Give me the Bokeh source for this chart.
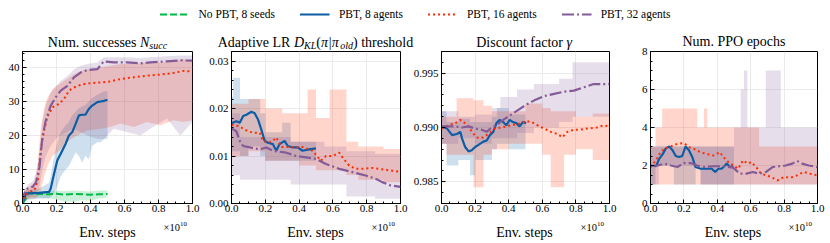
from bokeh.plotting import figure
from bokeh.layouts import column, row
from bokeh.models import (Range1d, SingleIntervalTicker, NumeralTickFormatter,
                          Label, Legend, LegendItem)
from bokeh.embed import file_html
from bokeh.resources import INLINE

FONT = "Liberation Serif"
C_GREEN, C_BLUE, C_RED, C_PURPLE = "#00B945", "#0C5DA5", "#FF2C00", "#845B97"

series_names = ["No PBT, 8 seeds", "PBT, 8 agents", "PBT, 16 agents", "PBT, 32 agents"]
x_label = "Env. steps"

# ---------------- Panel 1: Num. successes ----------------
p1_green_x = [0.0, 0.02, 0.03, 0.05, 0.1, 0.15, 0.2, 0.25, 0.3, 0.35, 0.4, 0.45, 0.5]
p1_green_y = [0, 1.5, 3.0, 3.0, 2.8, 2.7, 2.9, 2.6, 2.8, 2.7, 2.6, 2.7, 2.8]
p1_green_lo = [0, 0.3, 1.5, 1.8, 1.8, 1.6, 1.2, 0.6, 0.5, 1.0, 0.8, 1.5, 1.8]
p1_green_hi = [0, 2.5, 3.8, 3.8, 3.6, 3.7, 3.8, 3.6, 3.8, 3.7, 3.5, 3.8, 3.8]

p1_blue_x = [0.0, 0.02, 0.1, 0.156, 0.166, 0.186, 0.205, 0.225, 0.254, 0.273, 0.293, 0.3125,
             0.332, 0.35, 0.37, 0.39, 0.41, 0.44, 0.46, 0.48, 0.5]
p1_blue_y = [0, 3.0, 3.1, 3.4, 4.4, 8.8, 12.7, 14.6, 17.6, 20.0, 21.0, 23.4, 25.9, 26.1, 26.1,
             27.8, 28.8, 29.8, 30.0, 30.2, 30.5]
p1_blue_lo = [0, 1.0, 1.5, 1.5, 2, 3, 5, 8, 10, 11, 13, 15, 14, 12, 14, 13, 17, 18, 18, 19, 19]
p1_blue_hi = [0, 4, 4.5, 6, 8, 14, 18, 21, 23, 24, 26, 27, 28, 28.5, 29, 30, 31, 32, 32.5, 33, 33]

p1_red_x = [0.0, 0.01, 0.04, 0.07, 0.09, 0.107, 0.127, 0.146, 0.176, 0.215, 0.244, 0.273, 0.303,
            0.342, 0.38, 0.459, 0.517, 0.576, 0.654, 0.732, 0.81, 0.889, 0.947, 1.0]
p1_red_y = [0, 2.0, 3.4, 3.9, 6.8, 15.6, 21.5, 25.4, 28.3, 29.3, 30.7, 33.2, 34.1, 34.9, 35.3,
            35.6, 35.9, 36.6, 37.1, 37.6, 37.9, 38.4, 39.0, 38.8]
p1_red_lo = [0, 0.5, 1.5, 1.5, 2, 4, 8, 11, 14, 15.5, 17, 18.5, 19.5, 20.5, 21.5, 22, 22.5, 23.5,
             22.5, 24, 23, 24.5, 24, 24.5]
p1_red_hi = [0, 4, 5, 6, 12, 22, 28, 31, 33.5, 35, 36, 37, 38, 39, 39.5, 40, 40.5, 41, 41, 41.5,
             41.5, 42, 42.5, 42]

p1_purple_x = [0.0, 0.01, 0.03, 0.06, 0.08, 0.1, 0.117, 0.137, 0.166, 0.195, 0.225, 0.264, 0.303,
               0.342, 0.38, 0.44, 0.478, 0.537, 0.615, 0.693, 0.752, 0.85, 0.928, 1.0]
p1_purple_y = [0, 2.9, 4.4, 4.9, 6.3, 10.7, 19.5, 24.4, 28.8, 31.2, 33.2, 34.6, 37.1, 38.5, 39.2,
               39.5, 41.8, 41.5, 41.5, 41.2, 41.5, 41.8, 42.1, 42.0]
p1_purple_lo = [0, 1, 2, 2.5, 3, 5, 10, 14, 17, 19, 20, 21, 22, 21, 20, 19, 19, 22, 21, 20, 22,
                25, 20, 24]
p1_purple_hi = [0, 4, 5.5, 6.5, 9, 15, 24, 29, 32.5, 34.5, 36, 37.5, 39.5, 40.5, 41, 41.5, 43, 43,
                43, 42.8, 43, 43.3, 43.5, 43.5]

# ---------------- Panel 2: Adaptive LR threshold ----------------
p2_blue_x = [0.0, 0.006, 0.029, 0.049, 0.069, 0.088, 0.118, 0.137, 0.157, 0.176, 0.196, 0.216,
             0.245, 0.265, 0.284, 0.314, 0.333, 0.363, 0.392, 0.42, 0.46, 0.5]
p2_blue_y = [0.0165, 0.017, 0.0173, 0.017, 0.0184, 0.0187, 0.0193, 0.019, 0.0177, 0.0156, 0.0132,
             0.0128, 0.0125, 0.0111, 0.0125, 0.0132, 0.0121, 0.0118, 0.0118, 0.0111, 0.0114, 0.0116]
p2_red_x = [0.0, 0.039, 0.069, 0.098, 0.127, 0.167, 0.186, 0.216, 0.245, 0.265, 0.294, 0.333,
            0.382, 0.42, 0.48, 0.529, 0.559, 0.598, 0.637, 0.657, 0.696, 0.735, 0.775, 0.833,
            0.873, 0.951, 1.0]
p2_red_y = [0.0166, 0.0163, 0.0158, 0.0152, 0.0149, 0.0149, 0.0132, 0.0128, 0.0132, 0.0139,
            0.0119, 0.0119, 0.0118, 0.0119, 0.0111, 0.009, 0.01, 0.01, 0.0107, 0.0097, 0.008,
            0.0073, 0.0073, 0.0075, 0.0073, 0.0069, 0.0067]
p2_purple_x = [0.0, 0.029, 0.049, 0.069, 0.108, 0.167, 0.206, 0.245, 0.324, 0.382, 0.441, 0.5,
               0.559, 0.637, 0.716, 0.794, 0.853, 0.892, 0.941, 1.0]
p2_purple_y = [0.0158, 0.0152, 0.0132, 0.0121, 0.0118, 0.0114, 0.0118, 0.0111, 0.0107, 0.01,
               0.0097, 0.0094, 0.0083, 0.0073, 0.0066, 0.0059, 0.0052, 0.0045, 0.0038, 0.0035]
p2_blue_bx = [0.0, 0.01, 0.05, 0.1, 0.17, 0.2, 0.3, 0.35, 0.45, 0.5]
p2_blue_lo = [0.011, 0.011, 0.010, 0.012, 0.010, 0.009, 0.009, 0.009, 0.009, 0.009]
p2_blue_hi = [0.0225, 0.0265, 0.022, 0.022, 0.019, 0.015, 0.017, 0.013, 0.013, 0.013]
p2_red_bx = [0.0, 0.1, 0.2, 0.3, 0.4, 0.45, 0.5, 0.58, 0.68, 0.75, 0.9, 1.0]
p2_red_lo = [0.010, 0.011, 0.009, 0.009, 0.008, 0.008, 0.007, 0.007, 0.006, 0.005, 0.0045, 0.0045]
p2_red_hi = [0.021, 0.022, 0.020, 0.019, 0.019, 0.024, 0.018, 0.024, 0.013, 0.012, 0.0115, 0.0115]
p2_purple_bx = [0.0, 0.05, 0.2, 0.35, 0.55, 0.68, 0.85, 1.0]
p2_purple_lo = [0.006, 0.005, 0.005, 0.004, 0.004, 0.0015, 0.001, 0.001]
p2_purple_hi = [0.019, 0.014, 0.014, 0.013, 0.012, 0.011, 0.0105, 0.0105]

# ---------------- Panel 3: Discount factor ----------------
p3_blue_x = [0.0, 0.033, 0.063, 0.092, 0.112, 0.122, 0.141, 0.161, 0.18, 0.2, 0.22, 0.249, 0.269,
             0.288, 0.308, 0.327, 0.347, 0.367, 0.386, 0.406, 0.425, 0.445, 0.465, 0.484, 0.504]
p3_blue_y = [0.9901, 0.9899, 0.9893, 0.9894, 0.9896, 0.989, 0.9882, 0.9878, 0.9879, 0.9882,
             0.9884, 0.9887, 0.9888, 0.9893, 0.9896, 0.9904, 0.9907, 0.9905, 0.9902, 0.9907,
             0.9905, 0.9904, 0.9901, 0.9905, 0.9904]
p3_red_x = [0.0, 0.043, 0.082, 0.112, 0.131, 0.161, 0.18, 0.21, 0.229, 0.249, 0.278, 0.318, 0.357,
            0.416, 0.475, 0.504, 0.553, 0.582, 0.612, 0.651, 0.69, 0.72, 0.749, 0.788, 0.827,
            0.867, 0.925, 0.965, 1.0]
p3_red_y = [0.9899, 0.9902, 0.9904, 0.9907, 0.9905, 0.9901, 0.9896, 0.9891, 0.989, 0.9891, 0.9894,
            0.9899, 0.99, 0.9902, 0.9904, 0.9906, 0.9904, 0.9901, 0.9899, 0.9896, 0.9894, 0.9891,
            0.9896, 0.9898, 0.9898, 0.9899, 0.99, 0.9902, 0.9901]
p3_purple_x = [0.0, 0.043, 0.082, 0.122, 0.161, 0.2, 0.239, 0.269, 0.298, 0.327, 0.367, 0.406,
               0.455, 0.504, 0.553, 0.612, 0.67, 0.729, 0.788, 0.847, 0.906, 0.955, 1.0]
p3_purple_y = [0.9901, 0.9901, 0.9901, 0.99, 0.9901, 0.9899, 0.9898, 0.9896, 0.99, 0.9902,
               0.9907, 0.9911, 0.9916, 0.9921, 0.9925, 0.9929, 0.9931, 0.9933, 0.9934, 0.9937,
               0.994, 0.994, 0.994]
p3_blue_bx = [0.0, 0.03, 0.1, 0.17, 0.2, 0.3, 0.33, 0.4, 0.5]
p3_blue_lo = [0.9885, 0.9865, 0.987, 0.9856, 0.987, 0.988, 0.9885, 0.988, 0.988]
p3_blue_hi = [0.9915, 0.9905, 0.9908, 0.9905, 0.9905, 0.991, 0.9918, 0.9912, 0.9912]
p3_red_bx = [0.0, 0.03, 0.09, 0.19, 0.25, 0.3, 0.4, 0.5, 0.6, 0.65, 0.73, 0.8, 0.9, 1.0]
p3_red_lo = [0.9885, 0.9875, 0.9875, 0.9845, 0.9875, 0.988, 0.9885, 0.9885, 0.9875, 0.9845,
             0.9875, 0.988, 0.987, 0.987]
p3_red_hi = [0.991, 0.991, 0.9927, 0.9925, 0.992, 0.9915, 0.9915, 0.9922, 0.9918, 0.9915, 0.9915,
             0.991, 0.9913, 0.9913]
p3_purple_bx = [0.0, 0.1, 0.2, 0.3, 0.35, 0.45, 0.55, 0.7, 0.78, 1.0]
p3_purple_lo = [0.9885, 0.989, 0.9885, 0.989, 0.989, 0.9895, 0.990, 0.9905, 0.991, 0.991]
p3_purple_hi = [0.9915, 0.991, 0.9912, 0.9918, 0.9928, 0.9935, 0.994, 0.9945, 0.996, 0.996]

# ---------------- Panel 4: Num. PPO epochs ----------------
p4_blue_x = [0.0, 0.033, 0.053, 0.073, 0.092, 0.112, 0.132, 0.151, 0.171, 0.19, 0.21, 0.23, 0.25,
             0.269, 0.3, 0.338, 0.367, 0.387, 0.407, 0.426, 0.446, 0.456, 0.475, 0.495]
p4_blue_y = [2.0, 1.96, 2.36, 2.6, 2.9, 3.0, 2.8, 2.5, 2.45, 2.5, 3.0, 2.8, 2.45, 1.92, 1.83, 1.83,
             1.83, 1.66, 1.83, 1.83, 2.0, 2.1, 1.92, 1.96]
p4_red_x = [0.0, 0.033, 0.053, 0.083, 0.122, 0.161, 0.2, 0.23, 0.259, 0.3, 0.338, 0.377, 0.416,
            0.436, 0.466, 0.495, 0.525, 0.554, 0.583, 0.603, 0.633, 0.662, 0.692, 0.721, 0.76,
            0.8, 0.839, 0.878, 0.917, 0.957, 1.0]
p4_red_y = [1.92, 2.27, 2.6, 2.9, 3.0, 3.14, 3.18, 2.97, 2.88, 2.7, 2.6, 2.53, 2.7, 2.45, 2.18, 2.0,
            1.83, 2.27, 2.1, 2.18, 1.92, 1.57, 1.48, 1.4, 1.22, 1.4, 1.36, 1.48, 1.66, 1.57, 1.48]
p4_purple_x = [0.0, 0.043, 0.083, 0.122, 0.161, 0.2, 0.24, 0.279, 0.318, 0.377, 0.436, 0.495,
               0.534, 0.574, 0.613, 0.652, 0.692, 0.731, 0.77, 0.809, 0.849, 0.878, 0.908, 0.947,
               1.0]
p4_purple_y = [1.96, 2.0, 2.1, 2.0, 1.92, 2.13, 2.13, 2.0, 1.92, 1.96, 1.96, 1.89, 1.57, 1.57, 1.66,
               1.57, 1.66, 1.92, 1.96, 2.0, 2.1, 2.24, 2.1, 2.0, 1.92]
p4_blue_bx = [0.0, 0.03, 0.14, 0.27, 0.3, 0.5]
p4_blue_lo = [1, 2, 1, 2, 1, 1]
p4_blue_hi = [3, 3, 3, 3, 3, 3]
p4_red_bx = [0.0, 0.03, 0.07, 0.28, 0.32, 0.34, 0.65, 1.0]
p4_red_lo = [1, 1, 1, 1, 1, 1, 1, 1]
p4_red_hi = [3, 4, 5, 4, 5, 4, 3, 3]
p4_purple_bx = [0.0, 0.05, 0.3, 0.5, 0.54, 0.56, 0.58, 0.69, 0.78, 1.0]
p4_purple_lo = [1, 2, 1, 1, 1, 1, 1, 1, 1, 1]
p4_purple_hi = [3, 3, 3, 4, 6, 7, 4, 7, 4, 4]

# ---------------- layout constants ----------------
TOTAL_W = 830
W = [206, 204, 228, 192]      # figure widths
L = [22, 24, 29, 10]          # left borders
R = [14, 10, 29, 13]          # right borders
LEG_H, TITLE_H, PANEL_H, BOT_H = 28, 22, 167, 26

ROMAN = {' ': .25, '.': .25, ',': .25, 'N': .722, 'u': .5, 'm': .778, 's': .389, 'c': .444,
         'e': .444, 'A': .722, 'd': .5, 'a': .444, 'p': .5, 't': .278, 'i': .278, 'v': .5,
         'L': .611, 'R': .667, 'h': .5, 'r': .333, 'o': .5, 'l': .278, 'D': .722, 'f': .333,
         'P': .556, 'O': .722, '(': .333, ')': .333, '|': .2, 'n': .5, '×': .564, '1': .5, '0': .5}
ITAL = {'N': .667, 's': .389, 'u': .5, 'c': .444, 'D': .722, 'K': .667, 'L': .556, 'o': .5,
        'l': .278, 'd': .5, 'π': .55, '|': .275, 'γ': .45}


def tw(s, size, italic):
    tab = ITAL if italic else ROMAN
    return sum(tab.get(ch, 0.5) for ch in s) * size


frame_left, frame_right = [], []
acc = 0
for w, l, r in zip(W, L, R):
    frame_left.append(acc + l)
    frame_right.append(acc + w - r)
    acc += w
frame_mid = [(a + b) / 2 for a, b in zip(frame_left, frame_right)]


def strip(width, height):
    s = figure(width=width, height=height, x_range=Range1d(0, width),
               y_range=Range1d(0, height), output_backend="svg", toolbar_location=None,
               min_border=0)
    s.axis.visible = False
    s.grid.visible = False
    s.outline_line_color = None
    return s


def txt(fig, x, y, s, size, italic=False, align="left"):
    fig.add_layout(Label(x=x, y=y, text=s, text_font=FONT,
                         text_font_style="italic" if italic else "normal",
                         text_font_size=f"{size}px", text_baseline="alphabetic",
                         text_align=align, text_color="black"))


def make_panel(i, yr, yint, yminor, yfmt, extra_top=0):
    p = figure(width=W[i], height=PANEL_H + extra_top, x_range=Range1d(0, 1),
               y_range=Range1d(*yr), output_backend="svg", toolbar_location=None,
               min_border_left=L[i], min_border_right=R[i], min_border_top=1 + extra_top,
               min_border_bottom=14)
    p.outline_line_color = "black"
    p.outline_line_width = 1
    p.xaxis.ticker = SingleIntervalTicker(interval=0.2, num_minor_ticks=4)
    p.xaxis.formatter = NumeralTickFormatter(format="0.0")
    p.yaxis.ticker = SingleIntervalTicker(interval=yint, num_minor_ticks=yminor)
    if yfmt:
        p.yaxis.formatter = NumeralTickFormatter(format=yfmt)
    for ax in p.axis:
        ax.major_tick_in = 4
        ax.major_tick_out = 0
        ax.minor_tick_in = 2
        ax.minor_tick_out = 0
        ax.axis_line_color = "black"
        ax.major_tick_line_color = "black"
        ax.minor_tick_line_color = "black"
        ax.major_label_text_font = FONT
        ax.major_label_text_font_size = "11px"
        ax.major_label_text_color = "black"
    p.xaxis.major_label_standoff = 1
    p.yaxis.major_label_standoff = 3
    p.grid.grid_line_color = "#e6e6e6"
    p.grid.grid_line_width = 0.8
    return p


STY = {
    "green": dict(line_color=C_GREEN, line_width=2, line_dash="7 3"),
    "blue": dict(line_color=C_BLUE, line_width=2.2),
    "red": dict(line_color=C_RED, line_width=2, line_dash="2 3"),
    "purple": dict(line_color=C_PURPLE, line_width=2.2, line_dash="12 3 2 3"),
}
BAND_ALPHA = 0.2

# Panel 1
p1 = make_panel(0, (0, 44.7), 10, 5, None)
for x, lo, hi, c in [(p1_green_x, p1_green_lo, p1_green_hi, C_GREEN),
                     (p1_blue_x, p1_blue_lo, p1_blue_hi, C_BLUE),
                     (p1_red_x, p1_red_lo, p1_red_hi, C_RED),
                     (p1_purple_x, p1_purple_lo, p1_purple_hi, C_PURPLE)]:
    p1.varea(x=x, y1=lo, y2=hi, fill_color=c, fill_alpha=BAND_ALPHA)
p1.line(p1_green_x, p1_green_y, **STY["green"])
p1.line(p1_blue_x, p1_blue_y, **STY["blue"])
p1.line(p1_red_x, p1_red_y, **STY["red"])
p1.line(p1_purple_x, p1_purple_y, **STY["purple"])

# Panel 2
p2 = make_panel(1, (0, 0.032), 0.01, 5, "0.00")
for x, lo, hi, c in [(p2_blue_bx, p2_blue_lo, p2_blue_hi, C_BLUE),
                     (p2_red_bx, p2_red_lo, p2_red_hi, C_RED),
                     (p2_purple_bx, p2_purple_lo, p2_purple_hi, C_PURPLE)]:
    p2.varea_step(x=x, y1=lo, y2=hi, step_mode="after", fill_color=c, fill_alpha=BAND_ALPHA)
p2.line(p2_blue_x, p2_blue_y, **STY["blue"])
p2.line(p2_red_x, p2_red_y, **STY["red"])
p2.line(p2_purple_x, p2_purple_y, **STY["purple"])

# Panel 3
p3 = make_panel(2, (0.983, 0.997), 0.005, 5, "0.000")
for x, lo, hi, c in [(p3_blue_bx, p3_blue_lo, p3_blue_hi, C_BLUE),
                     (p3_red_bx, p3_red_lo, p3_red_hi, C_RED),
                     (p3_purple_bx, p3_purple_lo, p3_purple_hi, C_PURPLE)]:
    p3.varea_step(x=x, y1=lo, y2=hi, step_mode="after", fill_color=c, fill_alpha=BAND_ALPHA)
p3.line(p3_blue_x, p3_blue_y, **STY["blue"])
p3.line(p3_red_x, p3_red_y, **STY["red"])
p3.line(p3_purple_x, p3_purple_y, **STY["purple"])

# Panel 4 (taller: its own title sits in its top border, so the top tick label "8" fits)
p4 = make_panel(3, (0, 8), 2, 4, None, extra_top=TITLE_H)
for x, lo, hi, c in [(p4_blue_bx, p4_blue_lo, p4_blue_hi, C_BLUE),
                     (p4_red_bx, p4_red_lo, p4_red_hi, C_RED),
                     (p4_purple_bx, p4_purple_lo, p4_purple_hi, C_PURPLE)]:
    p4.varea_step(x=x, y1=lo, y2=hi, step_mode="after", fill_color=c, fill_alpha=BAND_ALPHA)
p4.line(p4_blue_x, p4_blue_y, **STY["blue"])
p4.line(p4_red_x, p4_red_y, **STY["red"])
p4.line(p4_purple_x, p4_purple_y, **STY["purple"])
p4.title.text = "Num. PPO epochs"
p4.title.align = "center"
p4.title.text_font = FONT
p4.title.text_font_size = "14px"
p4.title.text_font_style = "normal"
p4.title.text_color = "black"
p4.title.standoff = 5
p4.title.offset = 0

# Titles strip for panels 1-3 (rich text: pieces of (text, italic, size, baseline shift))
titles = [
    [("Num. successes ", False, 14, 0), ("N", True, 14, 0), ("succ", True, 10, -3)],
    [("Adaptive LR ", False, 14, 0), ("D", True, 14, 0), ("KL", True, 10, -3),
     ("(", False, 14, 0), ("π|π", True, 14, 0), ("old", True, 10, -3),
     (")", False, 14, 0), (" threshold", False, 14, 0)],
    [("Discount factor ", False, 14, 0), ("γ", True, 14, 0)],
]
ts = strip(sum(W[:3]), TITLE_H)
TITLE_BASE = 8
for mid, pieces in zip(frame_mid[:3], titles):
    total = sum(tw(s, sz, it) for s, it, sz, dy in pieces)
    x0 = mid - total / 2.0
    for s, it, sz, dy in pieces:
        lead = len(s) - len(s.lstrip(" "))
        shown = s.strip(" ")
        txt(ts, x0 + tw(" " * lead, sz, False), TITLE_BASE + dy, shown, sz, it)
        x0 += tw(s, sz, it)

# Bottom strip: x-axis label and x10^10 multiplier
bs = strip(TOTAL_W, BOT_H)
for mid, right in zip(frame_mid, frame_right):
    txt(bs, mid, 11, x_label, 14, align="center")
    txt(bs, right - 29, 16.3, "×10", 10.5)
    txt(bs, right - 29 + tw("×10", 10.5, False), 19.5, "10", 7)

# Legend strip (its lines reuse panel-1 data, kept out of view by the y range)
lf = figure(width=TOTAL_W, height=LEG_H, output_backend="svg", toolbar_location=None,
            min_border=0, x_range=Range1d(0, 1), y_range=Range1d(1000, 1001))
lf.axis.visible = False
lf.grid.visible = False
lf.outline_line_color = None
rs = [lf.line(p1_green_x, p1_green_y, **STY["green"]),
      lf.line(p1_blue_x, p1_blue_y, **STY["blue"]),
      lf.line(p1_red_x, p1_red_y, **STY["red"]),
      lf.line(p1_purple_x, p1_purple_y, **STY["purple"])]
leg = Legend(items=[LegendItem(label=n, renderers=[r]) for n, r in zip(series_names, rs)],
             orientation="horizontal", location="center", glyph_width=30, glyph_height=12,
             label_height=12, label_standoff=9, spacing=25, padding=0, margin=0,
             border_line_color=None, background_fill_alpha=0,
             label_text_font=FONT, label_text_font_size="11.5px", label_text_color="black")
lf.add_layout(leg, "center")

layout = column(lf, row(column(ts, row(p1, p2, p3)), p4), bs)
open("out.html", "w").write(file_html(layout, INLINE))
